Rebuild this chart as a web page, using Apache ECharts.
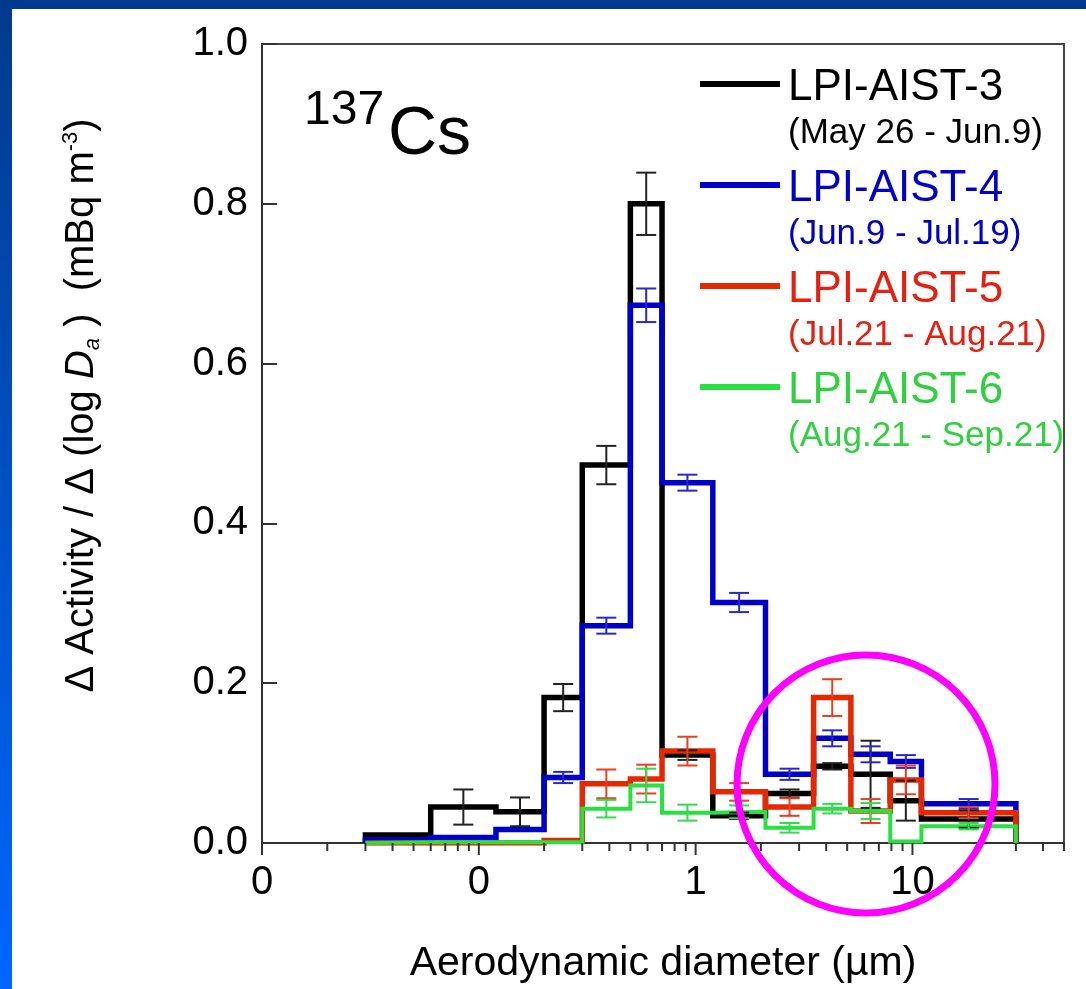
<!DOCTYPE html>
<html><head><meta charset="utf-8">
<script src="https://cdn.jsdelivr.net/npm/echarts@6/dist/echarts.min.js"></script>
<style>html,body{margin:0;padding:0;background:#fff;overflow:hidden}#c{width:1086px;height:989px}</style>
</head><body><div id="c"></div>
<script>
// ---- data ----
const binEdges = [0.03, 0.06, 0.12, 0.2, 0.3, 0.5, 0.7, 1.2, 2.1, 3.5, 5.2, 7.9, 11, 30];
const seriesNames = ['LPI-AIST-3', 'LPI-AIST-4', 'LPI-AIST-5', 'LPI-AIST-6'];
const periods = ['(May 26 - Jun.9)', '(Jun.9 - Jul.19)', '(Jul.21 - Aug.21)', '(Aug.21 - Sep.21)'];
const aist3 = [0.010, 0.045, 0.039, 0.182, 0.473, 0.800, 0.110, 0.034, 0.062, 0.096, 0.086, 0.053, 0.030];
const aist3Err = [0, 0.022, 0.018, 0.017, 0.024, 0.039, 0.006, 0.004, 0.005, 0.004, 0.042, 0.025, 0.011];
const aist4 = [0.004, 0.007, 0.017, 0.082, 0.272, 0.673, 0.451, 0.301, 0.086, 0.131, 0.111, 0.102, 0.049];
const aist4Err = [0, 0, 0, 0.007, 0.010, 0.021, 0.010, 0.012, 0.007, 0.010, 0.010, 0.008, 0.006];
const aist5 = [0, 0, 0, 0.003, 0.074, 0.080, 0.115, 0.064, 0.045, 0.182, 0.040, 0.079, 0.038];
const aist5Err = [0, 0, 0, 0, 0.018, 0.018, 0.018, 0.011, 0.011, 0.023, 0.015, 0.018, 0.007];
const aist6 = [0.001, 0.001, 0.001, 0.001, 0.043, 0.072, 0.038, 0.039, 0.019, 0.043, 0.040, 0.002, 0.021];
const aist6Err = [0, 0, 0, 0, 0.011, 0.021, 0.010, 0.008, 0.006, 0.006, 0.010, 0, 0.004];
const xMajorTicks = [0.01, 0.1, 1, 10];
const xTickLabels = ['0', '0', '1', '10'];
const xMinorMultipliers = [2, 3, 4, 5, 6, 7, 8, 9];

// ---- styles ----
const F = '"Liberation Sans", Arial, sans-serif';
const lineColors = ['#000000', '#0000c8', '#e62800', '#28e040'];
const errColors = ['#222222', '#2828d0', '#e84020', '#38d850'];
const textColors = ['#000000', '#0000c8', '#e62010', '#30d040'];
const lineWidths = [5.5, 5.5, 5.5, 4];
const zOrder = [2, 3, 4, 5];
const vals = [aist3, aist4, aist5, aist6];
const errs = [aist3Err, aist4Err, aist5Err, aist6Err];

function stepData(v) {
  const d = [[binEdges[0], 0]];
  v.forEach((y, i) => d.push([binEdges[i], y]));
  d.push([binEdges[binEdges.length - 1], 0]);
  return d;
}
function errData(v, e) {
  const d = [];
  v.forEach((y, i) => {
    if (e[i] > 0) d.push([Math.sqrt(binEdges[i] * binEdges[i + 1]), y, e[i]]);
  });
  return d;
}
function errRender(color) {
  return function (params, api) {
    const x = api.value(0), y = api.value(1), e = api.value(2);
    const t = api.coord([x, y + e]), b = api.coord([x, y - e]);
    const hw = 10;
    const st = { stroke: color, lineWidth: 2 };
    return { type: 'group', children: [
      { type: 'line', shape: { x1: t[0], y1: t[1], x2: b[0], y2: b[1] }, style: st },
      { type: 'line', shape: { x1: t[0] - hw, y1: t[1], x2: t[0] + hw, y2: t[1] }, style: st },
      { type: 'line', shape: { x1: b[0] - hw, y1: b[1], x2: b[0] + hw, y2: b[1] }, style: st }
    ] };
  };
}
const tickData = [];
xMajorTicks.forEach(d => {
  tickData.push([d, 0, 1]);
  xMinorMultipliers.forEach(m => { if (m * d <= 50 + 1e-9) tickData.push([m * d, 0, 0]); });
});

const series = [];
seriesNames.forEach((n, i) => {
  series.push({
    name: n, type: 'line', step: 'end', data: stepData(vals[i]), showSymbol: false, symbol: 'none',
    z: zOrder[i], silent: true,
    lineStyle: { color: lineColors[i], width: lineWidths[i], join: 'miter', cap: 'butt' },
    itemStyle: { color: lineColors[i] }
  });
});
seriesNames.forEach((n, i) => {
  series.push({
    name: n + ' error', type: 'custom', data: errData(vals[i], errs[i]), encode: { x: 0, y: 1 },
    renderItem: errRender(errColors[i]), z: 6, silent: true
  });
});
series.push({
  name: 'xticks', type: 'custom', data: tickData, encode: { x: 0, y: 1 }, silent: true, z: 7, clip: false,
  renderItem: function (params, api) {
    const p = api.coord([api.value(0), api.value(1)]);
    const len = api.value(2) ? 12 : 8;
    return { type: 'line', shape: { x1: p[0], y1: p[1], x2: p[0], y2: p[1] + len }, style: { stroke: '#333', lineWidth: 2 } };
  }
});

const chart = echarts.init(document.getElementById('c'), null, { renderer: 'canvas' });
chart.setOption({
  backgroundColor: '#ffffff',
  animation: false,
  grid: { left: 262, top: 44, right: 22, bottom: 144, show: true, borderColor: '#444', borderWidth: 2, backgroundColor: 'transparent' },
  xAxis: {
    type: 'log', logBase: 10, min: 0.01, max: 50, splitNumber: 4,
    name: 'Aerodynamic diameter (µm)', nameLocation: 'middle', nameGap: 100,
    nameTextStyle: { fontSize: 41, color: '#000', fontFamily: F },
    axisLine: { show: true, onZero: false, lineStyle: { color: '#333', width: 2 } },
    axisTick: { show: false },
    splitLine: { show: false },
    axisLabel: {
      margin: 20, fontSize: 40, color: '#000', fontFamily: F, showMaxLabel: false,
      formatter: function (v) {
        const k = xMajorTicks.findIndex(t => Math.abs(Math.log10(t) - Math.log10(v)) < 1e-6);
        return k >= 0 ? xTickLabels[k] : '';
      }
    }
  },
  yAxis: {
    type: 'value', min: 0, max: 1, interval: 0.2,
    name: '{t|Δ Activity / Δ (log }{i|D}{sub|a}{t| )  (mBq m}{sup|-3}{t|)}',
    nameLocation: 'middle', nameGap: 158, nameRotate: 90,
    nameTextStyle: {
      color: '#000', fontFamily: F, padding: [0, 0, 0, 76],
      rich: {
        t: { fontSize: 40, lineHeight: 44, fontFamily: F, color: '#000' },
        i: { fontSize: 40, lineHeight: 44, fontStyle: 'italic', fontFamily: F, color: '#000' },
        sub: { fontSize: 22, fontStyle: 'italic', verticalAlign: 'bottom', fontFamily: F, color: '#000' },
        sup: { fontSize: 22, verticalAlign: 'top', fontFamily: F, color: '#000' }
      }
    },
    axisLine: { show: true, lineStyle: { color: '#333', width: 2 } },
    axisTick: { show: true, inside: true, length: 15, lineStyle: { color: '#333', width: 2 } },
    splitLine: { show: false },
    axisLabel: { margin: 14, fontSize: 40, color: '#000', fontFamily: F, formatter: v => v.toFixed(1) }
  },
  legend: {
    orient: 'vertical', left: 700, top: 66, padding: 0, itemGap: 16.5, itemWidth: 80, itemHeight: 6,
    icon: 'rect', align: 'left', selectedMode: false,
    data: seriesNames.map((n, i) => ({ name: n, textStyle: { color: textColors[i] } })),
    formatter: name => '{a|' + name + '}\n{b|' + periods[seriesNames.indexOf(name)] + '}',
    textStyle: {
      fontFamily: F, padding: [53, 0, 0, 3],
      rich: { a: { fontSize: 44, lineHeight: 45, fontFamily: F }, b: { fontSize: 35, lineHeight: 45, fontFamily: F } }
    }
  },
  graphic: [
    { type: 'rect', silent: true, z: -10, shape: { x: 0, y: 0, width: 1086, height: 9 }, style: { fill: '#003a8c' } },
    { type: 'rect', silent: true, z: -10, shape: { x: 0, y: 0, width: 12, height: 989 },
      style: { fill: new echarts.graphic.LinearGradient(0, 0, 0, 1, [{ offset: 0, color: '#003a8c' }, { offset: 1, color: '#0066ff' }]) } },
    { type: 'text', left: 304, top: 87, z: 10, style: { text: '137', fontSize: 48, fontFamily: F, fill: '#000' } },
    { type: 'text', left: 388, top: 101, z: 10, style: { text: 'Cs', fontSize: 68, fontFamily: F, fill: '#000' } },
    { type: 'circle', silent: true, z: 100, shape: { cx: 866, cy: 784, r: 129 }, style: { fill: 'none', stroke: '#ff00ff', lineWidth: 7 } }
  ],
  series: series
});
</script></body></html>
